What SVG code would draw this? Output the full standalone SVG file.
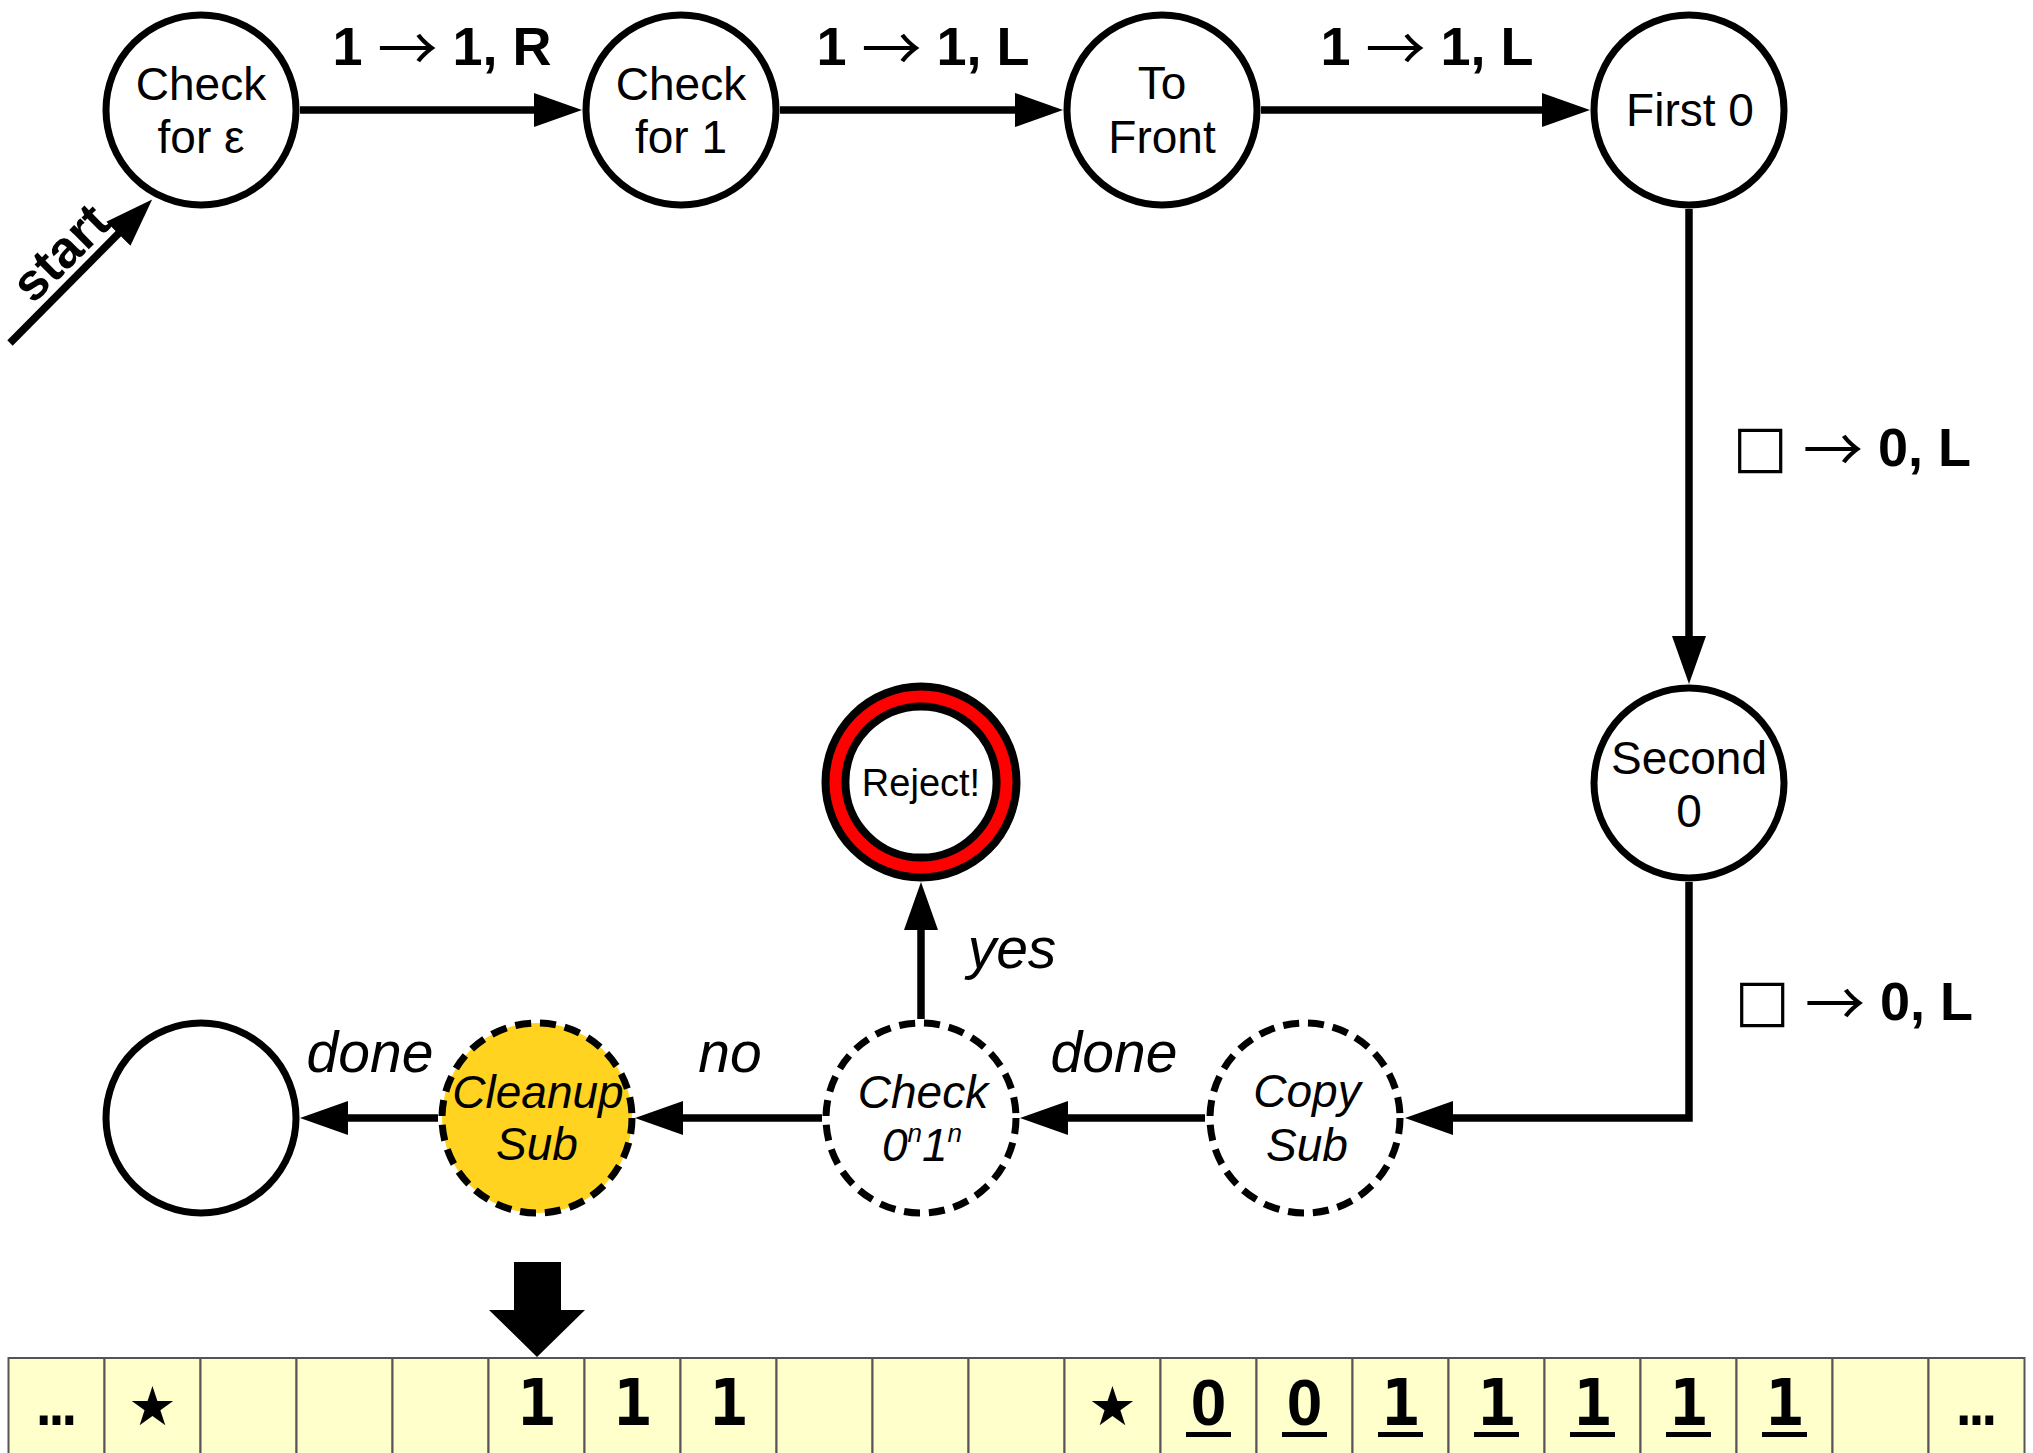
<svg xmlns="http://www.w3.org/2000/svg" width="2033" height="1453" viewBox="0 0 2033 1453">
<style>
.node{fill:#fff;stroke:#000;stroke-width:7}
.dash{stroke-dasharray:16 9}
.nl{font-family:"Liberation Sans",Arial,sans-serif;font-size:46px;text-anchor:middle;fill:#000}
.it{font-style:italic}
.el{font-family:"Liberation Sans",Arial,sans-serif;font-size:54px;font-weight:bold;text-anchor:middle;fill:#000}
.il{font-family:"Liberation Sans",Arial,sans-serif;font-size:57px;font-style:italic;text-anchor:middle;fill:#000}
.ar{font-family:"Noto Sans CJK JP","DejaVu Sans",sans-serif;font-weight:normal;font-size:60px;baseline-shift:-6px}
.sq{font-family:"DejaVu Sans",sans-serif;font-weight:normal;font-size:58px}
.conn{fill:none;stroke:#000;stroke-width:7.5;marker-end:url(#ah)}
.cell{fill:#ffffcc;stroke:#555;stroke-width:2}
.td{font-family:"DejaVu Sans Mono",monospace;font-size:64px;font-weight:bold;text-anchor:middle;fill:#000}
.tz{font-family:"Liberation Sans",Arial,sans-serif;font-size:64px;font-weight:bold;text-anchor:middle;fill:#000}
.ts{font-family:"DejaVu Sans",sans-serif;font-size:54px;text-anchor:middle;fill:#000}
.te{font-family:"DejaVu Sans Mono",monospace;font-size:64px;text-anchor:middle;fill:#000}
</style>
<defs>
<marker id="ah" markerUnits="userSpaceOnUse" markerWidth="50" markerHeight="36" refX="8" refY="17" orient="auto">
<path d="M0,0 L48,17 L0,34 z" fill="#000"/>
</marker>
</defs>
<rect width="2033" height="1453" fill="#fff"/>

<g id="connectors">
<path class="conn" d="M300,110 H542"/>
<path class="conn" d="M780,110 H1023"/>
<path class="conn" d="M1261,110 H1550"/>
<path class="conn" d="M1689,209 V644"/>
<path class="conn" d="M1689,882 V1118 H1445"/>
<path class="conn" d="M1205,1118 H1060"/>
<path class="conn" d="M822,1118 H675"/>
<path class="conn" d="M438,1118 H340"/>
<path class="conn" d="M921,1019 V922"/>
<path class="conn" d="M10,343 L124,228"/>
<text class="el" transform="translate(33,305) rotate(-45)" style="text-anchor:start;font-size:52px">start</text>
<text class="el" x="442" y="65">1 <tspan class="ar">→</tspan> 1, R</text>
<text class="el" x="923" y="65">1 <tspan class="ar">→</tspan> 1, L</text>
<text class="el" x="1427" y="65">1 <tspan class="ar">→</tspan> 1, L</text>
<text class="el" x="1852" y="466"><tspan class="sq">□</tspan> <tspan class="ar">→</tspan> 0, L</text>
<text class="el" x="1854" y="1020"><tspan class="sq">□</tspan> <tspan class="ar">→</tspan> 0, L</text>
<text class="il" x="1012" y="968">yes</text>
<text class="il" x="370" y="1072">done</text>
<text class="il" x="730" y="1072">no</text>
<text class="il" x="1114" y="1072">done</text>
</g>

<g id="checkEps">
<circle class="node" cx="201" cy="110" r="95"/>
<text class="nl" x="201" y="100">Check</text>
<text class="nl" x="201" y="153">for ε</text>
</g>
<g id="checkOne">
<circle class="node" cx="681" cy="110" r="95"/>
<text class="nl" x="681" y="100">Check</text>
<text class="nl" x="681" y="153">for 1</text>
</g>
<g id="toFront">
<circle class="node" cx="1162" cy="110" r="95"/>
<text class="nl" x="1162" y="99">To</text>
<text class="nl" x="1162" y="153">Front</text>
</g>
<g id="firstZero">
<circle class="node" cx="1689" cy="110" r="95"/>
<text class="nl" x="1690" y="126">First 0</text>
</g>
<g id="secondZero">
<circle class="node" cx="1689" cy="783" r="95"/>
<text class="nl" x="1689" y="774">Second</text>
<text class="nl" x="1689" y="827">0</text>
</g>
<g id="reject">
<circle cx="921" cy="782" r="95.5" fill="#ff0000" stroke="#000" stroke-width="8"/>
<circle cx="921" cy="782" r="75.6" fill="#fff" stroke="#000" stroke-width="8"/>
<text class="nl" x="921" y="796" style="font-size:38px">Reject!</text>
</g>
<g id="copySub">
<circle class="node dash" cx="1305" cy="1118" r="95"/>
<text class="nl it" x="1307" y="1107">Copy</text>
<text class="nl it" x="1307" y="1161">Sub</text>
</g>
<g id="check0n1n">
<circle class="node dash" cx="921" cy="1118" r="95"/>
<text class="nl it" x="923" y="1108">Check</text>
<text class="nl it" x="922" y="1161">0<tspan font-size="26" dy="-19">n</tspan><tspan dy="19">1</tspan><tspan font-size="26" dy="-19">n</tspan></text>
</g>
<g id="cleanupSub">
<circle class="node dash" cx="537" cy="1118" r="95" style="fill:#ffd320"/>
<text class="nl it" x="538" y="1108">Cleanup</text>
<text class="nl it" x="537" y="1160">Sub</text>
</g>
<g id="halt">
<circle class="node" cx="201" cy="1118" r="95"/>
</g>

<g id="head">
<path d="M514,1262 H561 V1310 H585 L537,1357 L489,1310 H514 z" fill="#000"/>
</g>

<g id="tape">
<rect class="cell" x="8.5" y="1358" width="96" height="100"/>
<rect class="cell" x="104.5" y="1358" width="96" height="100"/>
<rect class="cell" x="200.5" y="1358" width="96" height="100"/>
<rect class="cell" x="296.5" y="1358" width="96" height="100"/>
<rect class="cell" x="392.5" y="1358" width="96" height="100"/>
<rect class="cell" x="488.5" y="1358" width="96" height="100"/>
<rect class="cell" x="584.5" y="1358" width="96" height="100"/>
<rect class="cell" x="680.5" y="1358" width="96" height="100"/>
<rect class="cell" x="776.5" y="1358" width="96" height="100"/>
<rect class="cell" x="872.5" y="1358" width="96" height="100"/>
<rect class="cell" x="968.5" y="1358" width="96" height="100"/>
<rect class="cell" x="1064.5" y="1358" width="96" height="100"/>
<rect class="cell" x="1160.5" y="1358" width="96" height="100"/>
<rect class="cell" x="1256.5" y="1358" width="96" height="100"/>
<rect class="cell" x="1352.5" y="1358" width="96" height="100"/>
<rect class="cell" x="1448.5" y="1358" width="96" height="100"/>
<rect class="cell" x="1544.5" y="1358" width="96" height="100"/>
<rect class="cell" x="1640.5" y="1358" width="96" height="100"/>
<rect class="cell" x="1736.5" y="1358" width="96" height="100"/>
<rect class="cell" x="1832.5" y="1358" width="96" height="100"/>
<rect class="cell" x="1928.5" y="1358" width="96" height="100"/>
<text class="te" x="56.5" y="1425">…</text>
<text class="ts" x="152.5" y="1425">★</text>
<text class="td" x="536.5" y="1425">1</text>
<text class="td" x="632.5" y="1425">1</text>
<text class="td" x="728.5" y="1425">1</text>
<text class="ts" x="1112.5" y="1425">★</text>
<text class="tz" x="1208.5" y="1425">0</text>
<text class="tz" x="1304.5" y="1425">0</text>
<text class="td" x="1400.5" y="1425">1</text>
<text class="td" x="1496.5" y="1425">1</text>
<text class="td" x="1592.5" y="1425">1</text>
<text class="td" x="1688.5" y="1425">1</text>
<text class="td" x="1784.5" y="1425">1</text>
<text class="te" x="1976.5" y="1425">…</text>
<g fill="#000">
<rect x="1186" y="1432" width="45" height="5"/>
<rect x="1282" y="1432" width="45" height="5"/>
<rect x="1378" y="1432" width="45" height="5"/>
<rect x="1474" y="1432" width="45" height="5"/>
<rect x="1570" y="1432" width="45" height="5"/>
<rect x="1666" y="1432" width="45" height="5"/>
<rect x="1762" y="1432" width="45" height="5"/>
</g>
</g>
</svg>
